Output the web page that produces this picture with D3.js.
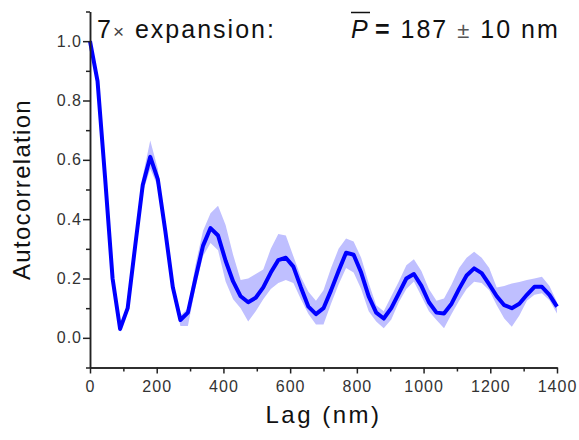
<!DOCTYPE html>
<html>
<head>
<meta charset="utf-8">
<script src="https://cdn.jsdelivr.net/npm/d3@7"></script>
<style>
  body { margin: 0; background: #fff; }
  text { font-family: "Liberation Sans", Arial, sans-serif; }
</style>
</head>
<body>
<svg width="579" height="440"></svg>
<script>
// lag positions (nm)
const lags = [0, 22.6, 45.2, 67.7, 90.3, 112.9, 135.5, 158.1, 180.6, 203.2,
  225.8, 248.4, 271, 293.5, 316.1, 338.7, 361.3, 383.9, 406.5, 429,
  451.6, 474.2, 496.8, 519.4, 542, 564.5, 587.1, 609.7, 632.3, 654.8,
  677.4, 700, 722.6, 745.2, 767.7, 790.3, 812.9, 835.5, 858, 880.6,
  903.2, 925.8, 948.4, 971, 993.5, 1016, 1038.7, 1061.3, 1083.9, 1106.5,
  1129, 1151.6, 1174.2, 1196.8, 1219.4, 1241.9, 1264.5, 1287.1, 1309.7, 1332.3,
  1354.8, 1377.4, 1400];

const meanAC = [1.0, 0.865, 0.54, 0.2, 0.03, 0.1, 0.31, 0.515, 0.61, 0.535,
  0.36, 0.17, 0.06, 0.085, 0.2, 0.31, 0.37, 0.345, 0.26, 0.19,
  0.14, 0.12, 0.135, 0.17, 0.22, 0.262, 0.27, 0.24, 0.17, 0.105,
  0.08, 0.1, 0.16, 0.225, 0.287, 0.28, 0.22, 0.14, 0.085, 0.065,
  0.1, 0.15, 0.2, 0.215, 0.175, 0.12, 0.085, 0.082, 0.115, 0.165,
  0.21, 0.234, 0.218, 0.18, 0.14, 0.11, 0.1, 0.115, 0.145, 0.172,
  0.172, 0.145, 0.105];

const upperAC = [1.0, 0.875, 0.555, 0.215, 0.04, 0.115, 0.33, 0.545, 0.665, 0.57,
  0.38, 0.19, 0.075, 0.1, 0.245, 0.36, 0.42, 0.445, 0.38, 0.28,
  0.195, 0.2, 0.215, 0.23, 0.3, 0.35, 0.345, 0.275, 0.205, 0.155,
  0.125, 0.16, 0.235, 0.3, 0.335, 0.325, 0.27, 0.185, 0.11, 0.09,
  0.14, 0.19, 0.245, 0.265, 0.225, 0.165, 0.125, 0.133, 0.18, 0.235,
  0.27, 0.29, 0.27, 0.235, 0.17, 0.175, 0.183, 0.188, 0.195, 0.2,
  0.206, 0.175, 0.12];

const lowerAC = [1.0, 0.855, 0.525, 0.185, 0.02, 0.085, 0.29, 0.49, 0.57, 0.51,
  0.34, 0.15, 0.04, 0.04, 0.17, 0.275, 0.32, 0.295, 0.19, 0.13,
  0.1, 0.055, 0.09, 0.13, 0.165, 0.185, 0.195, 0.185, 0.13, 0.08,
  0.045, 0.045, 0.115, 0.18, 0.235, 0.22, 0.165, 0.09, 0.055, 0.032,
  0.062, 0.12, 0.165, 0.19, 0.14, 0.09, 0.06, 0.032, 0.08, 0.125,
  0.165, 0.189, 0.185, 0.16, 0.11, 0.065, 0.037, 0.075, 0.125, 0.145,
  0.15, 0.127, 0.082];

const xTicks = [0, 200, 400, 600, 800, 1000, 1200, 1400];
const xMinor = [100, 300, 500, 700, 900, 1100, 1300];
const yTicks = [0.0, 0.2, 0.4, 0.6, 0.8, 1.0];
const yMinor = [-0.1, 0.1, 0.3, 0.5, 0.7, 0.9, 1.1];

const svg = d3.select('svg');
const margin = { top: 11.5, right: 22, bottom: 72.5, left: 90 };
const width = +svg.attr('width');
const height = +svg.attr('height');
const innerW = width - margin.left - margin.right;
const innerH = height - margin.top - margin.bottom;

const xScale = d3.scaleLinear().domain([0, 1400]).range([0, innerW]);
const yScale = d3.scaleLinear().domain([-0.1, 1.1]).range([innerH, 0]);

const g = svg.append('g').attr('transform', `translate(${margin.left},${margin.top})`);

const data = lags.map((l, i) => ({ lag: l, m: meanAC[i], hi: upperAC[i], lo: lowerAC[i] }));

// error band
g.append('path')
  .datum(data)
  .attr('fill', '#bfbfff')
  .attr('d', d3.area().x((d) => xScale(d.lag)).y0((d) => yScale(d.lo)).y1((d) => yScale(d.hi)));

// mean curve
g.append('path')
  .datum(data)
  .attr('fill', 'none')
  .attr('stroke', '#0000ff')
  .attr('stroke-width', 4)
  .attr('stroke-linejoin', 'round')
  .attr('d', d3.line().x((d) => xScale(d.lag)).y((d) => yScale(d.m)));

// axes
const styleAxis = (sel) => {
  sel.select('.domain').attr('stroke', '#222').attr('stroke-width', 1.5);
  sel.selectAll('.tick line').attr('stroke', '#222').attr('stroke-width', 1.5);
  sel.selectAll('.tick text').attr('fill', '#333').style('font-size', '16px').style('letter-spacing', '1px');
};

g.append('g')
  .attr('transform', `translate(0,${innerH})`)
  .call(d3.axisBottom(xScale).tickValues(xTicks).tickSize(6).tickPadding(7).tickSizeOuter(0).tickFormat(d3.format('d')))
  .call(styleAxis);
g.append('g')
  .attr('transform', `translate(0,${innerH})`)
  .call(d3.axisBottom(xScale).tickValues(xMinor).tickSize(4).tickSizeOuter(0).tickFormat(''))
  .call(styleAxis);

g.append('g')
  .call(d3.axisLeft(yScale).tickValues(yTicks).tickSize(7).tickPadding(1).tickSizeOuter(0).tickFormat(d3.format('.1f')))
  .call(styleAxis);
g.append('g')
  .call(d3.axisLeft(yScale).tickValues(yMinor).tickSize(4).tickSizeOuter(0).tickFormat(''))
  .call(styleAxis);

// axis titles
svg.append('text')
  .attr('x', margin.left + innerW / 2)
  .attr('y', 423)
  .attr('text-anchor', 'middle')
  .style('font-size', '24px')
  .style('letter-spacing', '2.5px')
  .attr('fill', '#111')
  .text('Lag (nm)');

svg.append('text')
  .attr('transform', `translate(30,${margin.top + innerH / 2}) rotate(-90)`)
  .attr('text-anchor', 'middle')
  .style('font-size', '24px')
  .style('letter-spacing', '1.3px')
  .attr('fill', '#111')
  .text('Autocorrelation');

// annotations
const t1 = svg.append('text').attr('x', 97).attr('y', 38)
  .style('font-size', '25px').style('letter-spacing', '2px').attr('fill', '#111');
t1.append('tspan').text('7');
t1.append('tspan').style('font-size', '19px').attr('fill', '#444').text('\u00d7');
t1.append('tspan').text(' expansion:');

const pText = svg.append('text').attr('x', 351).attr('y', 38)
  .style('font-size', '25px').style('font-style', 'italic').attr('fill', '#111').text('P');
const pBox = pText.node().getBBox();
svg.append('line')
  .attr('x1', pBox.x).attr('x2', pBox.x + pBox.width + 2)
  .attr('y1', 12.5).attr('y2', 12.5)
  .attr('stroke', '#111').attr('stroke-width', 1.5);

const t2 = svg.append('text').attr('x', pBox.x + pBox.width + 7).attr('y', 38)
  .style('font-size', '25px').style('letter-spacing', '2px').attr('fill', '#111');
t2.append('tspan').style('font-weight', 'bold').text('=');
t2.append('tspan').text(' 187 ');
t2.append('tspan').attr('fill', '#555').style('font-size', '22px').text('\u00b1');
t2.append('tspan').text(' 10 nm');
</script>
</body>
</html>
